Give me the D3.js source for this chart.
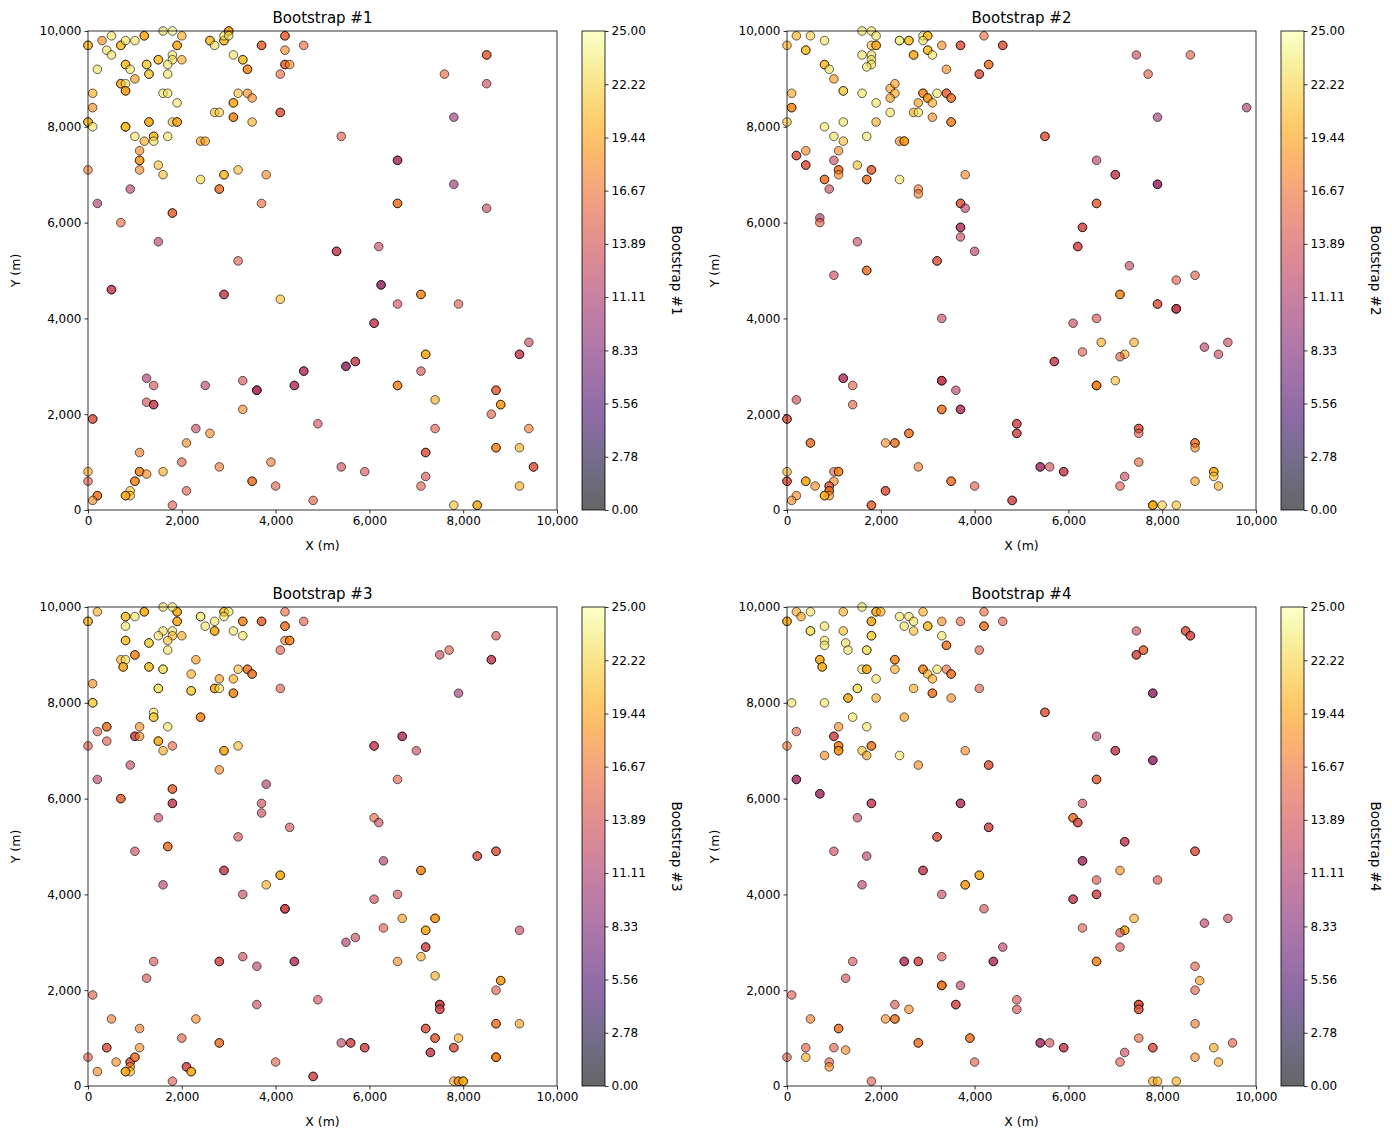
<!DOCTYPE html>
<html>
<head>
<meta charset="utf-8">
<script src="https://cdn.jsdelivr.net/npm/d3@7"></script>
<style>
  body { margin: 0; background: #fff; }
  svg text { font-family: "DejaVu Sans", sans-serif; fill: #000; }
</style>
</head>
<body>
<svg id="fig" width="1392" height="1139"></svg>
<script>
// Each sample: [x (m), y (m), value, times drawn in the bootstrap]
const boot1 = [
  [0,9700,21,2],[300,9800,18,1],[500,9900,23,1],[400,9600,23,1],[500,9500,23,1],[700,9700,21,2],[800,9800,23,1],[1000,9800,23,1],
  [1200,9900,20,2],[1600,10000,23,1],[1800,10000,24,1],[2000,9900,20,1],[1900,9700,20,2],[1500,9400,21,2],[1800,9500,23,1],[1800,9400,23,1],
  [2000,9400,20,1],[1700,9300,23,1],[1700,9100,23,1],[1250,9300,22,2],[1300,9100,22,2],[800,9300,21,2],[900,9200,23,1],[200,9200,23,1],
  [1000,9000,19,1],[700,8900,20,2],[800,8900,23,1],[800,8750,19,2],[100,8700,20,1],[100,8400,18,1],[0,8100,21,2],[100,8000,23,1],
  [800,8000,21,3],[1600,8700,23,1],[1700,8700,23,1],[1900,8500,23,1],[1300,8100,20,2],[1800,8100,21,1],[1900,8100,20,2],[1000,7800,23,1],
  [1200,7700,20,1],[1400,7800,21,2],[1400,7700,23,1],[1700,7800,23,1],[1100,7500,18,1],[1100,7300,19,2],[1100,7100,18,1],[1500,7200,21,1],
  [1600,7000,21,1],[0,7100,17,1],[900,6700,12,1],[200,6400,11,1],[700,6000,16,1],[1800,6200,16,2],[1500,5600,12,1],
  [2600,9800,21,2],[2700,9700,23,1],[2900,9800,21,2],[2900,9900,23,1],[3000,10000,19,2],[3000,9900,23,1],[3700,9700,16,2],[4200,9900,16,2],
  [4600,9700,16,1],[4200,9600,18,1],[4200,9300,16,2],[4300,9300,18,1],[4100,9100,16,1],[3100,9500,23,1],[3300,9400,21,2],[3400,9200,18,2],
  [3200,8700,21,1],[3400,8700,18,1],[3500,8600,18,1],[3100,8500,20,2],[3100,8200,18,2],[3500,8100,20,1],[2700,8300,21,1],[2800,8300,22,1],
  [4100,8300,15,2],[2400,7700,19,1],[2500,7700,19,1],[2900,7000,21,2],[3200,7100,21,1],[3800,7000,18,1],[2400,6900,22,1],[2800,6700,17,2],
  [3700,6400,16,1],[3200,5200,15,1],
  [8500,9500,16,2],[7600,9100,16,1],[8500,8900,13,1],[7800,8200,10,1],[5400,7800,15,1],[6600,7300,11,2],[7800,6800,10,1],[6600,6400,17,2],
  [8500,6300,13,1],[5300,5400,13,2],[6200,5500,13,1],
  [500,4600,13,2],[2900,4500,13,2],[4100,4400,21,1],[6250,4700,10,2],[6600,4300,14,1],[7100,4500,18,2],[7900,4300,15,1],[6100,3900,13,2],
  [7200,3250,20,2],[7100,2900,14,1],[9400,3500,13,1],[9200,3250,13,2],[5700,3100,13,2],[5500,3000,10,2],[4600,2900,12,2],[4400,2600,12,2],
  [3600,2500,12,3],[3300,2700,14,1],[2500,2600,12,1],[1250,2750,11,1],[1400,2600,14,1],[1250,2250,14,1],[1400,2200,13,2],[6600,2600,18,2],
  [7400,2300,20,1],[8700,2500,16,2],[8800,2200,19,2],[8600,2000,15,1],[100,1900,15,2],[3300,2100,18,1],[4900,1800,14,1],[2300,1700,13,1],
  [2600,1600,18,1],[2100,1400,18,1],[7400,1700,15,1],[9400,1700,17,1],[1100,1200,17,1],[7200,1200,15,2],[8700,1300,18,2],[9200,1300,20,1],
  [9500,900,15,2],[2000,1000,15,1],[3900,1000,17,1],[2800,900,17,1],[5400,900,13,1],[5900,800,14,1],[0,800,20,1],[0,600,15,1],
  [1100,800,18,2],[1250,750,18,1],[1600,800,20,1],[1000,600,18,2],[900,400,21,1],[900,300,21,1],[800,300,20,2],[200,300,17,2],
  [100,200,18,1],[3500,600,17,2],[4000,500,15,1],[7100,500,15,1],[7200,700,14,1],[9200,500,20,1],[2100,400,15,1],[4800,200,15,1],
  [1800,100,15,1],[7800,100,21,1],[8300,100,20,2]
];

const boot2 = [
  [0,9700,20,1],[200,9900,20,1],[500,9900,22,1],[400,9600,21,2],[800,9800,23,1],[800,9300,21,2],[900,9200,23,1],[1000,9000,19,1],
  [100,8700,20,1],[100,8400,18,2],[0,8100,21,1],[1200,8750,22,2],[1600,10000,23,1],[1800,10000,23,1],[1900,9900,23,1],[1800,9700,21,1],
  [1900,9700,20,2],[1600,9500,23,1],[1800,9500,23,1],[1800,9400,23,1],[1800,9300,23,1],[1700,9250,23,1],[2400,9800,24,2],[2600,9800,21,2],
  [2900,9900,23,1],[3000,9900,21,2],[2900,9800,23,1],[2700,9500,20,2],[3000,9600,21,2],[3100,9500,23,1],[3300,9700,18,1],[3700,9700,15,2],
  [4200,9900,16,1],[4600,9700,15,2],[4300,9300,17,2],[4100,9100,15,2],[3400,9200,18,1],[2200,8800,19,1],[2300,8900,19,1],[2300,8700,20,1],
  [2200,8600,19,1],[1600,8700,23,1],[1900,8500,23,1],[2200,8300,23,1],[1900,8100,20,1],[800,8000,23,1],[1200,8100,23,1],[1000,7800,23,1],
  [1200,7700,21,1],[1700,7800,23,1],[2900,8700,18,2],[3000,8600,19,2],[3100,8500,20,1],[3200,8700,23,1],[3400,8700,16,2],[3500,8600,17,2],
  [2800,8500,19,1],[2700,8300,20,1],[2800,8300,23,1],[3100,8200,18,1],[3500,8100,18,2],[2400,7700,18,1],[2500,7700,19,2],[200,7400,15,2],
  [400,7500,18,1],[400,7200,15,2],[1100,7500,18,1],[1000,7300,13,1],[1100,7100,17,2],[1100,7000,18,1],[800,6900,17,2],[1500,7200,21,1],
  [1800,7100,16,2],[1700,6900,17,2],[2400,6900,23,1],[900,6700,13,1],[2800,6700,17,1],[2800,6600,17,1],[3800,7000,18,1],[3700,6400,15,2],
  [3800,6300,12,1],[700,6100,11,1],[700,6000,15,1],[3700,5900,12,2],[3700,5700,13,1],[1500,5600,13,1],[4000,5400,12,1],[3200,5200,15,2],
  [1700,5000,17,2],[1000,4900,13,1],
  [7450,9500,13,1],[8600,9500,15,1],[7700,9100,15,1],[9800,8400,11,1],[7900,8200,10,1],[5500,7800,15,2],[6600,7300,12,1],[7000,7000,13,2],
  [7900,6800,10,2],[6600,6400,16,2],[6300,5900,14,2],[6200,5500,14,2],[7300,5100,13,1],[8700,4900,15,1],
  [8300,4800,15,1],[7100,4500,18,2],[7900,4300,15,2],[8300,4200,13,3],[3300,4000,13,1],[6100,3900,13,1],[6600,4000,14,1],[6700,3500,20,1],
  [7400,3500,20,1],[6300,3300,15,1],[7200,3250,20,1],[7100,3200,15,1],[8900,3400,12,1],[9400,3500,13,1],[9200,3250,13,1],[5700,3100,13,2],
  [7000,2700,21,1],[6600,2600,18,3],[1200,2750,12,2],[1400,2600,15,1],[1400,2200,15,1],[200,2300,13,1],[3300,2700,13,3],[3600,2500,12,1],
  [3300,2100,17,2],[3700,2100,12,2],[0,1900,15,2],[4900,1800,14,2],[4900,1600,14,2],[7500,1700,15,2],[7500,1600,15,1],[500,1400,17,2],
  [2100,1400,18,1],[2300,1400,17,2],[2600,1600,17,2],[8700,1400,17,2],[8700,1300,18,1],[2800,900,17,1],[7500,1000,16,1],[5400,900,11,2],
  [5600,900,14,1],[5900,800,13,2],[0,800,20,1],[0,600,15,2],[1000,800,15,1],[1100,800,18,2],[1000,600,18,1],[900,500,16,2],
  [900,400,17,2],[900,300,19,1],[800,300,20,2],[400,600,20,2],[600,500,18,1],[200,300,18,1],[100,200,18,1],[3500,600,17,2],
  [4000,500,15,1],[1800,100,16,2],[2100,400,15,2],[4800,200,14,2],[7100,500,15,1],[7200,700,13,1],[8700,600,19,1],[9100,800,20,2],
  [9100,700,21,1],[9200,500,20,1],[7800,100,20,3],[8000,100,22,1],[8300,100,21,1]
];

const boot3 = [
  [0,9700,21,2],[200,9900,20,1],[800,9800,21,2],[1000,9800,23,1],[1200,9900,20,2],[800,9600,23,1],[1600,10000,23,1],[1900,9900,20,2],
  [1900,9700,20,2],[1800,10000,23,1],[1600,9500,23,1],[1800,9500,23,1],[1800,9400,21,1],[1500,9400,23,1],[2000,9400,20,1],[1700,9300,21,1],
  [1700,9100,23,1],[800,9300,21,2],[1300,9250,22,2],[1000,9000,18,2],[700,8900,20,1],[800,8900,23,1],[750,8750,20,2],[1300,8750,21,2],
  [1600,8700,23,2],[100,8400,18,1],[100,8000,22,2],[1500,8300,23,2],[2200,8250,22,2],[2300,8900,19,1],[2200,8600,20,1],[2400,9800,24,2],
  [2500,9600,23,1],[2700,9700,23,1],[2700,9500,20,2],[2900,9900,21,2],[3000,9900,23,1],[2900,9800,23,1],[3100,9500,23,1],[3300,9400,23,1],
  [3300,9700,18,2],[3700,9700,16,2],[4200,9900,16,1],[4600,9700,15,1],[4200,9600,17,2],[4200,9300,17,1],[4300,9300,18,2],[4100,9100,15,1],
  [4100,8300,15,1],[3400,8700,17,2],[3500,8600,17,2],[3200,8700,21,1],[3100,8500,20,1],[2800,8500,19,1],[2700,8300,20,2],[2800,8300,23,1],
  [3100,8200,18,2],[1400,7800,23,1],[1400,7700,22,2],[1700,7500,23,1],[1100,7500,18,1],[400,7500,17,2],[200,7400,15,1],[400,7200,15,1],
  [1000,7300,13,2],[1100,7300,18,1],[1500,7200,20,2],[1800,7100,16,1],[1600,7000,20,1],[0,7100,15,1],[2400,7700,18,2],[2900,7000,20,2],
  [3200,7100,21,1],[2800,6600,18,1],[900,6700,13,1],[200,6400,12,1],[700,6000,16,2],[1800,6200,16,2],[1800,5900,13,2],[1500,5600,13,1],
  [3800,6300,11,1],[3700,5900,13,1],[3700,5700,13,1],[4300,5400,14,1],[3200,5200,14,1],[1700,5000,17,2],[1000,4900,13,1],
  [8700,9400,14,1],[7500,9000,13,1],[7700,9100,15,1],[8600,8900,13,2],[7900,8200,10,1],[6700,7300,12,2],[6100,7100,13,2],[7000,7000,13,1],
  [6600,6400,15,1],[6100,5600,16,1],[6200,5500,13,1],
  [6300,4700,11,1],[7100,4500,18,2],[8300,4800,15,2],[8700,4900,15,2],[2900,4500,13,2],[4100,4400,20,2],[3800,4200,20,1],[1600,4200,12,1],
  [3300,4000,13,1],[4200,3700,14,3],[6100,3900,13,1],[6600,4000,14,1],[6700,3500,19,1],[7400,3500,19,2],[7200,3250,20,2],[6300,3300,15,1],
  [9200,3250,13,1],[5700,3100,13,1],[5500,3000,11,1],[7200,2900,14,2],[7100,2700,20,1],[6600,2600,18,1],[7400,2300,20,1],[4400,2600,12,2],
  [3600,2500,12,1],[3300,2700,13,1],[2800,2600,14,2],[1400,2600,14,1],[1250,2250,14,1],[100,1900,15,1],[4900,1800,14,1],[3600,1700,13,1],
  [7500,1700,14,3],[7500,1600,14,2],[8800,2200,19,2],[8700,2000,15,1],[500,1400,17,1],[2300,1400,18,1],[1100,1200,17,1],[7200,1200,15,2],
  [8700,1300,17,2],[9200,1300,19,1],[7400,1000,16,2],[7900,1000,20,1],[2000,1000,15,1],[2800,900,17,2],[5400,900,12,1],[5600,900,14,2],
  [5900,800,14,2],[7300,700,13,2],[7800,800,15,2],[8700,600,18,3],[0,600,15,1],[400,800,15,2],[600,500,18,1],[200,300,18,1],
  [900,500,15,2],[1000,600,17,2],[900,400,18,1],[900,300,21,1],[800,300,20,2],[1100,800,18,1],[2100,400,14,2],[2200,300,20,2],
  [4000,500,15,1],[1800,100,15,1],[4800,200,14,2],[7800,100,20,1],[7900,100,19,2],[8000,100,20,2]
];

const boot4 = [
  [0,9700,20,2],[200,9900,20,1],[300,9800,19,1],[500,9900,23,1],[500,9500,23,2],[800,9600,23,1],[800,9300,23,1],[800,9200,23,1],
  [1200,9900,20,1],[1200,9500,21,1],[1250,9250,23,1],[1300,9100,23,1],[1600,10000,23,1],[1900,9900,20,2],[2000,9900,20,1],[1800,9700,20,2],
  [1800,9400,22,2],[1700,9100,23,2],[700,8900,20,2],[750,8750,20,2],[1600,8700,23,1],[1700,8700,20,2],[1900,8500,23,1],[2300,8900,18,2],
  [2300,8700,20,1],[1500,8300,23,2],[1300,8100,20,2],[1900,8100,20,1],[800,8000,23,1],[100,8000,23,1],[2400,9800,23,1],[2600,9800,23,1],
  [2500,9600,23,1],[2700,9700,23,1],[2700,9500,21,1],[2900,9900,20,1],[3000,9600,21,2],[3300,9700,18,1],[3300,9400,23,1],[3400,9200,17,2],
  [3700,9700,16,1],[4200,9900,16,1],[4200,9600,17,2],[4600,9700,15,1],[4100,9100,15,1],[4100,8300,15,1],[2900,8700,18,2],[3000,8600,20,1],
  [3100,8500,20,1],[3200,8700,23,1],[3400,8700,16,1],[3500,8600,17,2],[2700,8300,20,1],[3100,8200,17,2],[3500,8100,18,1],[1400,7700,23,1],
  [1700,7500,23,1],[1100,7500,18,1],[2500,7700,19,1],[200,7400,15,1],[1000,7300,14,2],[1100,7100,18,2],[1100,7000,19,2],[1600,7000,21,1],
  [1700,6900,19,1],[1800,7100,17,2],[0,7100,17,1],[800,6900,18,1],[2400,6900,23,1],[2800,6700,18,1],[3800,7000,18,1],[4300,6700,15,2],
  [200,6400,11,2],[700,6100,11,2],[1800,5900,13,2],[3700,5900,12,2],[1500,5600,13,1],[4300,5400,14,2],[3200,5200,15,2],[1000,4900,13,1],
  [7450,9500,13,1],[8500,9500,15,2],[8600,9400,14,2],[7600,9100,16,2],[7450,9000,14,2],[7800,8200,10,2],[5500,7800,15,2],[6600,7300,12,1],
  [7000,7000,13,2],[7800,6800,10,2],[6600,6400,16,2],[6300,5900,13,1],[6100,5600,17,2],[6200,5500,14,2],[7200,5100,13,2],
  [1700,4800,12,1],[8700,4900,15,2],[6300,4700,11,2],[7100,4500,18,1],[7900,4300,14,1],[6600,4300,14,1],[6100,3900,13,2],[6600,4000,14,2],
  [2900,4500,13,2],[4100,4400,20,2],[3800,4200,19,2],[1600,4200,12,1],[3300,4000,13,1],[4200,3700,14,1],[7400,3500,20,1],[6300,3300,15,1],
  [7200,3250,20,2],[7100,3200,14,1],[8900,3400,12,1],[9400,3500,13,1],[7100,2900,14,1],[4600,2900,12,1],[4400,2600,12,2],[3300,2700,14,1],
  [2500,2600,12,2],[2800,2600,14,2],[6600,2600,18,2],[3300,2100,17,3],[3700,2100,12,1],[3600,1700,14,2],[1400,2600,14,1],[1250,2250,14,1],
  [100,1900,15,1],[4900,1800,14,1],[4900,1600,14,1],[7500,1700,15,3],[7500,1600,15,2],[8700,2500,15,1],[8800,2200,19,1],[8700,2000,15,1],
  [500,1400,17,1],[1100,1200,17,2],[2100,1400,18,1],[2300,1400,17,2],[2300,1700,14,1],[2600,1600,18,1],[8700,1300,17,1],[2800,900,17,2],
  [3900,1000,17,2],[5400,900,11,2],[5600,900,14,1],[5900,800,13,2],[7500,1000,16,1],[7800,800,15,2],[7200,700,13,1],[7100,500,15,1],
  [8700,600,18,1],[9100,800,20,1],[9200,500,20,1],[9500,900,15,1],[0,600,15,1],[400,800,15,1],[400,600,20,1],[1000,800,15,1],
  [1250,750,18,1],[900,500,15,1],[900,400,18,1],[4000,500,15,1],[1800,100,15,1],[7800,100,20,1],[7900,100,20,1],[8300,100,20,1]
];

const titles = ['Bootstrap #1', 'Bootstrap #2', 'Bootstrap #3', 'Bootstrap #4'];
const axisTicks = [0, 2000, 4000, 6000, 8000, 10000];
const cbarTicks = [0, 2.78, 5.56, 8.33, 11.11, 13.89, 16.67, 19.44, 22.22, 25.00];
const vmin = 0, vmax = 25;

const W = 469, H = 479;
const origins = [[88, 31], [787, 31], [88, 607], [787, 607]];
const alpha = 0.6;

const svg = d3.select('#fig');
const fmtAxis = d3.format(',.0f');

// Colorbar gradient (inferno with the scatter alpha, on white)
const defs = svg.append('defs');
const grad = defs.append('linearGradient')
  .attr('id', 'cbgrad')
  .attr('x1', 0).attr('y1', 1).attr('x2', 0).attr('y2', 0);
d3.range(0, 1.0001, 0.02).forEach(t => {
  grad.append('stop')
    .attr('offset', t)
    .attr('stop-color', d3.interpolateInferno(t))
    .attr('stop-opacity', alpha);
});

[boot1, boot2, boot3, boot4].forEach((data, i) => {
  const [ox, oy] = origins[i];
  const g = svg.append('g').attr('transform', `translate(${ox},${oy})`);

  const x = d3.scaleLinear().domain([0, 10000]).range([0, W]);
  const y = d3.scaleLinear().domain([0, 10000]).range([H, 0]);
  const color = v => d3.interpolateInferno((v - vmin) / (vmax - vmin));

  // points, repeated picks are drawn on top of each other
  const marks = data.flatMap(d => d3.range(d[3]).map(() => d));
  g.append('g')
    .selectAll('circle')
    .data(marks)
    .join('circle')
    .attr('cx', d => x(d[0]))
    .attr('cy', d => y(d[1]))
    .attr('r', 4.3)
    .attr('fill', d => color(d[2]))
    .attr('fill-opacity', alpha)
    .attr('stroke', '#000')
    .attr('stroke-opacity', alpha)
    .attr('stroke-width', 1);

  // axes
  const xAxis = d3.axisBottom(x).tickValues(axisTicks).tickFormat(fmtAxis).tickSize(3.5).tickPadding(3);
  const yAxis = d3.axisLeft(y).tickValues(axisTicks).tickFormat(fmtAxis).tickSize(3.5).tickPadding(3);

  const gx = g.append('g').attr('transform', `translate(0,${H})`).call(xAxis);
  const gy = g.append('g').call(yAxis);
  [gx, gy].forEach(a => {
    a.select('.domain').remove();
    a.selectAll('line').attr('stroke', '#000').attr('stroke-width', 0.8);
    a.selectAll('text').style('font-size', '12px').attr('fill', '#000');
  });

  g.append('rect')
    .attr('width', W).attr('height', H)
    .attr('fill', 'none').attr('stroke', '#000').attr('stroke-width', 0.8);

  g.append('text')
    .attr('x', W / 2).attr('y', -8)
    .attr('text-anchor', 'middle')
    .style('font-size', '15px')
    .text(titles[i]);

  g.append('text')
    .attr('x', W / 2).attr('y', H + 40)
    .attr('text-anchor', 'middle')
    .style('font-size', '12.5px')
    .text('X (m)');

  g.append('text')
    .attr('transform', `translate(-68,${H / 2}) rotate(-90)`)
    .attr('text-anchor', 'middle')
    .style('font-size', '12.5px')
    .text('Y (m)');

  // colorbar
  const cb = g.append('g').attr('transform', `translate(494,0)`);
  const cbW = 23;
  const cy = d3.scaleLinear().domain([vmin, vmax]).range([H, 0]);
  cb.append('rect').attr('width', cbW).attr('height', H).attr('fill', 'url(#cbgrad)');
  cb.append('rect').attr('width', cbW).attr('height', H)
    .attr('fill', 'none').attr('stroke', '#000').attr('stroke-width', 0.8);

  const cAxis = d3.axisRight(cy).tickValues(cbarTicks).tickFormat(d3.format('.2f')).tickSize(3.5).tickPadding(3);
  const gc = cb.append('g').attr('transform', `translate(${cbW},0)`).call(cAxis);
  gc.select('.domain').remove();
  gc.selectAll('line').attr('stroke', '#000').attr('stroke-width', 0.8);
  gc.selectAll('text').style('font-size', '12px').attr('fill', '#000');

  cb.append('text')
    .attr('transform', `translate(90,${H / 2}) rotate(90)`)
    .attr('text-anchor', 'middle')
    .style('font-size', '13.5px')
    .text(titles[i]);
});
</script>
</body>
</html>
